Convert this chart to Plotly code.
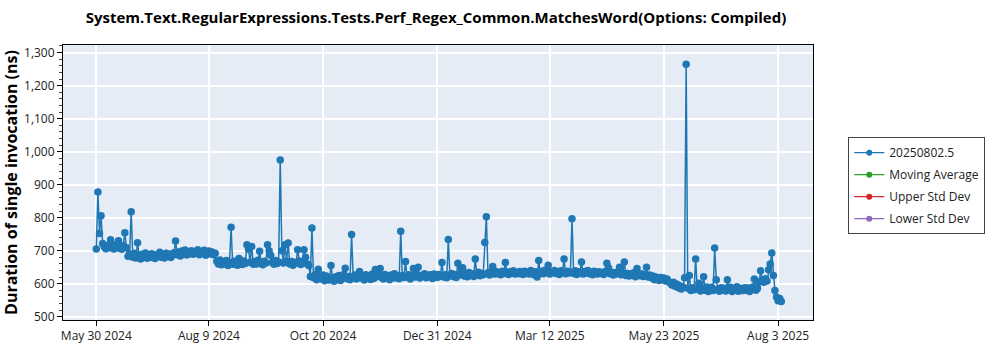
import plotly.graph_objects as go
import pandas as pd

start_date = "2024-05-30"
series_name = "20250802.5"
durations_ns = [
    705, 878, 752, 806, 722, 712, 706, 716, 709, 733,
    714, 705, 718, 708, 730, 712, 704, 715, 754, 709,
    683, 690, 818, 680, 692, 678, 724, 686, 675, 689,
    681, 693, 677, 686, 679, 691, 684, 676, 688, 682,
    695, 680, 687, 678, 692, 684, 690, 679, 686, 694,
    729, 688, 696, 684, 699, 690, 702, 687, 695, 691,
    700, 689, 697, 693, 703, 688, 696, 692, 701, 686,
    694, 699, 690, 696, 688, 692, 668, 660, 672, 657,
    666, 661, 670, 655, 664, 771, 659, 668, 662, 656,
    676, 663, 658, 669, 661, 718, 704, 665, 713, 659,
    667, 660, 671, 698, 662, 657, 668, 663, 718, 700,
    685, 664, 659, 670, 661, 666, 975, 700, 663, 718,
    668, 723, 660, 667, 656, 665, 662, 703, 669, 658,
    664, 703, 680, 660, 655, 622, 769, 618, 627, 612,
    644, 620, 614, 626, 609, 623, 616, 611, 655, 618,
    607, 621, 613, 625, 610, 619, 628, 647, 615, 622,
    612, 749, 620, 626, 614, 623, 637, 617, 624, 611,
    627, 618, 622, 613, 629, 616, 643, 621, 625, 646,
    619, 614, 628, 620, 624, 612, 626, 618, 630, 617,
    623, 615, 759, 625, 619, 667, 621, 627, 614, 624,
    646, 620, 628, 650, 617, 625, 622, 630, 618, 626,
    621, 627, 616, 629, 623, 619, 628, 624, 664, 620,
    627, 618, 734, 625, 631, 622, 628, 619, 662, 626,
    632, 648, 623, 629, 621, 634, 625, 630, 622, 675,
    628, 635, 624, 631, 627, 725, 803, 633, 626, 636,
    652, 629, 637, 630, 634, 627, 638, 631, 664, 635,
    628, 636, 632, 639, 629, 634, 630, 637, 633, 628,
    638, 631, 635, 629, 640, 633, 627, 636, 620, 670,
    632, 638, 630, 641, 634, 656, 629, 637, 633, 640,
    631, 636, 628, 639, 634, 675, 630, 638, 632, 635,
    797, 631, 639, 628, 636, 633, 666, 629, 637, 632,
    640, 630, 635, 627, 638, 633, 629, 636, 631, 634,
    628, 637, 662, 648, 630, 635, 626, 633, 629, 636,
    650, 627, 632, 666, 625, 631, 623, 629, 626, 633,
    621, 646, 628, 624, 630, 622, 627, 650, 620, 626,
    618, 623, 612, 620, 615, 610, 619, 613, 617, 608,
    614, 606, 602, 596, 604, 592, 599, 588, 594, 584,
    590, 618, 1265, 586, 625, 579, 588, 582, 675, 585,
    601, 578, 587, 621, 580, 590, 576, 584, 589, 579,
    708, 612, 583, 577, 588, 581, 586, 578, 612, 584,
    589, 576, 585, 580, 591, 577, 586, 582, 579, 588,
    581, 587, 576, 584, 590, 614, 580, 586, 605, 639,
    612, 604, 615, 608, 642, 660, 693, 625, 579, 560,
    548, 555, 546,
]
dates = pd.date_range(start_date, periods=len(durations_ns), freq="D")

tick_dates = ["2024-05-30", "2024-08-09", "2024-10-20", "2024-12-31",
              "2025-03-12", "2025-05-23", "2025-08-03"]
tick_labels = ["May 30 2024", "Aug 9 2024", "Oct 20 2024", "Dec 31 2024",
               "Mar 12 2025", "May 23 2025", "Aug 3 2025"]
y_ticks = [500, 600, 700, 800, 900, 1000, 1100, 1200, 1300]

legend_series = [(series_name, "#1f77b4"),
                 ("Moving Average", "#2ca02c"),
                 ("Upper Std Dev", "#d62728"),
                 ("Lower Std Dev", "#9467bd")]

title_text = "System.Text.RegularExpressions.Tests.Perf_Regex_Common.MatchesWord(Options: Compiled)"
y_title = "Duration of single invocation (ns)"

FONT = "Open Sans"

fig = go.Figure()
fig.add_trace(go.Scatter(
    x=dates, y=durations_ns, mode="lines+markers", name=series_name,
    showlegend=False,
    line=dict(color="#1f77b4", width=1.5),
    marker=dict(color="#1f77b4", size=7.5),
))
for i, (nm, col) in enumerate(legend_series):
    fig.add_trace(go.Scatter(
        x=[None], y=[None], mode="lines+markers", name=nm,
        legendgroup="g%d" % i,
        line=dict(color=col, width=1.3), marker=dict(color=col, size=6),
    ))

fig.update_layout(
    width=1000, height=350,
    margin=dict(l=63, r=187, t=45, b=30, autoexpand=False),
    paper_bgcolor="white", plot_bgcolor="#e5ecf6",
    title=dict(text="<b>" + title_text + "</b>", x=0.436, xanchor="center",
               y=0.948, yanchor="middle",
               font=dict(family=FONT, size=15, color="black")),
    font=dict(family=FONT, size=12, color="#222"),
    showlegend=True,
    legend=dict(x=1.047, y=0.665, xanchor="left", yanchor="top",
                bgcolor="white", bordercolor="#444", borderwidth=1,
                font=dict(family=FONT, size=12, color="#222"),
                tracegroupgap=3, itemwidth=30),
    shapes=[dict(type="rect", xref="paper", yref="paper",
                 x0=1.051, x1=1.221, y0=0.318, y1=0.655,
                 fillcolor="#999", line=dict(width=0), layer="below")],
)
fig.update_xaxes(
    range=["2024-05-09", "2025-08-25"], automargin=False,
    tickvals=tick_dates, ticktext=tick_labels,
    showgrid=True, gridcolor="white", gridwidth=1.5,
    showline=True, linecolor="black", linewidth=1, mirror=True,
    ticks="outside", ticklen=5, tickcolor="black",
    tickfont=dict(family=FONT, size=12, color="#222"),
    zeroline=False,
)
fig.update_yaxes(
    range=[490, 1323], automargin=False,
    tickvals=y_ticks, tickformat=",",
    showgrid=True, gridcolor="white", gridwidth=1.5,
    showline=True, linecolor="black", linewidth=1, mirror=True,
    ticks="outside", ticklen=5, tickcolor="black",
    minor=dict(dtick=20, ticks="outside", ticklen=3, tickcolor="#444", showgrid=False),
    tickfont=dict(family=FONT, size=12, color="#222"),
    title=dict(text="<b>" + y_title + "</b>", standoff=8,
               font=dict(family=FONT, size=16, color="black")),
    zeroline=False,
)

fig.write_html("out.html")
